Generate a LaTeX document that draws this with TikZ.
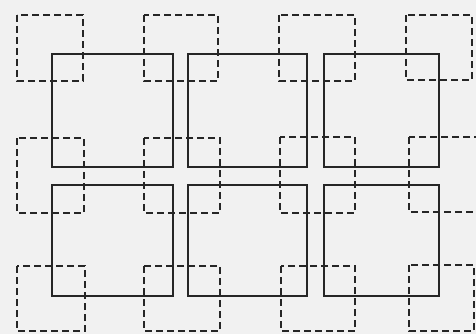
\documentclass[tikz,border=0pt]{standalone}
\definecolor{bg}{HTML}{F1F1F1}
\definecolor{ink}{HTML}{262626}
\tikzset{
  solidbox/.style={draw=ink, line width=2.4pt},
  dashbox/.style={draw=ink, line width=2.3pt, dash pattern=on 7pt off 4pt}
}
\begin{document}
\begin{tikzpicture}[x=1pt,y=-1pt]
\fill[bg] (0,0) rectangle (476,334);
\useasboundingbox (0,0) rectangle (476,334);
% solid rectangles
\draw[solidbox] (52,54) rectangle (173,167);
\draw[solidbox] (188,54) rectangle (307,167);
\draw[solidbox] (324,54) rectangle (439,167);
\draw[solidbox] (52,185) rectangle (173,296);
\draw[solidbox] (188,185) rectangle (307,296);
\draw[solidbox] (324,185) rectangle (439,296);
% dashed squares
\draw[dashbox] (17,15) rectangle (83,81);
\draw[dashbox] (144,15) rectangle (218,81);
\draw[dashbox] (279,15) rectangle (355,81);
\draw[dashbox] (406,15) rectangle (472,80);
\draw[dashbox] (17,138) rectangle (84,213);
\draw[dashbox] (144,138) rectangle (220,213);
\draw[dashbox] (280,137) rectangle (355,213);
\draw[dashbox] (409,137) rectangle (480,212);
\draw[dashbox] (17,266) rectangle (85,331);
\draw[dashbox] (144,266) rectangle (220,331);
\draw[dashbox] (281,266) rectangle (355,331);
\draw[dashbox] (409,265) rectangle (474,331);
\end{tikzpicture}
\end{document}
